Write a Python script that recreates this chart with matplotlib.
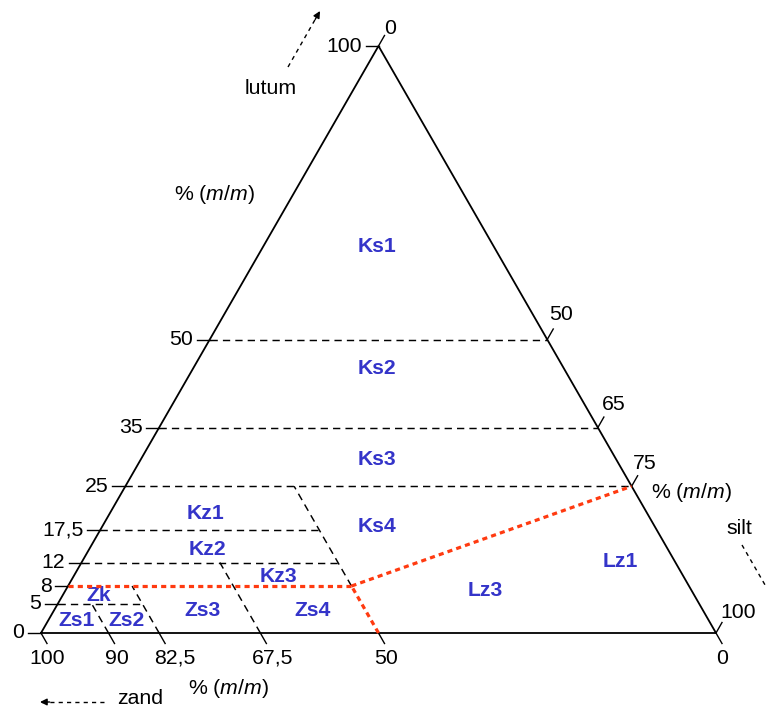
import matplotlib
matplotlib.use("Agg")
import matplotlib.pyplot as plt
import numpy as np

# ---------------- data ----------------
lutum_ticks = [0, 5, 8, 12, 17.5, 25, 35, 50, 100]
lutum_labels = ['0', '5', '8', '12', '17,5', '25', '35', '50', '100']
sand_ticks = [100, 90, 82.5, 67.5, 50, 0]
sand_labels = ['100', '90', '82,5', '67,5', '50', '0']
silt_tick_lutum = [100, 50, 35, 25, 0]
silt_labels = ['0', '50', '65', '75', '100']

# boundary segments as (lutum1, zand1, lutum2, zand2)
dashed_bounds = [
    (50, 50, 50, 0), (35, 65, 35, 0), (25, 75, 25, 0),
    (17.5, 82.5, 17.5, 50), (12, 88, 12, 50), (5, 95, 5, 82.5),
    (8, 50, 25, 50), (0, 67.5, 12, 67.5), (0, 82.5, 8, 82.5), (0, 90, 5, 90),
]
red_bounds = [(8, 92, 8, 50), (0, 50, 8, 50), (8, 50, 25, 0)]

class_names = ['Ks1', 'Ks2', 'Ks3', 'Ks4', 'Kz1', 'Kz2', 'Kz3', 'Zk',
               'Zs1', 'Zs2', 'Zs3', 'Zs4', 'Lz3', 'Lz1']
# label positions (base %, lutum %)
class_pos = [(49.8, 65.9), (49.8, 45.0), (49.8, 29.6), (49.8, 18.1),
             (24.4, 20.4), (24.6, 14.3), (35.2, 9.6), (8.6, 6.4),
             (5.2, 2.2), (12.7, 2.2), (23.9, 3.9), (40.3, 3.9),
             (65.8, 7.2), (85.8, 12.1)]

# label pixel offsets (layout only)
sand_lab_dx = [6, 8.5, 16, 12.5, 7.5, 6]
silt_lab_off = [(6, -18), (2, -24.5), (3.5, -23.5), (1.5, -23), (4, -20.5)]

# ---------------- geometry ----------------
SX = 6.75   # px per base-%
SY = 5.87   # px per lutum-%
X0px, Y0px = 41, 633
W, H = 766, 708


def tern(L, Z):
    S = 100 - L - Z
    return S + L / 2.0, L


def P(xpx, ypx):
    return (xpx - X0px) / SX, (Y0px - ypx) / SY


def off(dx, dy):
    return dx / SX, -dy / SY


plt.rcParams['font.family'] = ['Liberation Sans', 'DejaVu Sans']
plt.rcParams['mathtext.fontset'] = 'custom'
plt.rcParams['mathtext.rm'] = 'Liberation Sans'
plt.rcParams['mathtext.it'] = 'Liberation Sans:italic'

fig = plt.figure(figsize=(W / 100, H / 100), dpi=100)
ax = fig.add_axes([0, 0, 1, 1])
ax.set_xlim(-X0px / SX, (W - X0px) / SX)
ax.set_ylim((Y0px - H) / SY, Y0px / SY)
ax.axis('off')

FS = 15.3
FSB = 15.2
BLUE = '#3434C9'
RED = '#FF3A10'

# triangle
tri = [tern(0, 100), tern(0, 0), tern(100, 0), tern(0, 100)]
ax.plot([p[0] for p in tri], [p[1] for p in tri], color='black', lw=1.3,
        solid_joinstyle='miter', zorder=3)

# dashed boundaries
for L1, Z1, L2, Z2 in dashed_bounds:
    a, b = tern(L1, Z1), tern(L2, Z2)
    ax.plot([a[0], b[0]], [a[1], b[1]], color='black', lw=1.05,
            linestyle=(0, (5, 3.5)), zorder=2)

# red boundaries
for L1, Z1, L2, Z2 in red_bounds:
    a, b = tern(L1, Z1), tern(L2, Z2)
    ax.plot([a[0], b[0]], [a[1], b[1]], color=RED, lw=2.3,
            linestyle=(0, (1.6, 1.3)), zorder=4)

# lutum ticks (left)
for v, lab in zip(lutum_ticks, lutum_labels):
    x, y = tern(v, 100 - v)
    dx, _ = off(-13, 0)
    ax.plot([x + dx, x], [y, y], color='black', lw=1.0, zorder=3)
    tx, _ = off(-16.5, 0)
    ax.text(x + tx, y, lab, ha='right', va='center', fontsize=FS)

# sand ticks (bottom)
for v, lab, ldx in zip(sand_ticks, sand_labels, sand_lab_dx):
    x, y = tern(0, v)
    dx, dy = off(6, 10.5)
    ax.plot([x, x + dx], [y, y + dy], color='black', lw=1.0, zorder=3)
    tx, ty = off(ldx, 25)
    ax.text(x + tx, y + ty, lab, ha='center', va='center', fontsize=FS)

# silt ticks (right)
for v, lab, (ox, oy) in zip(silt_tick_lutum, silt_labels, silt_lab_off):
    x, y = tern(v, 0)
    dx, dy = off(6, -10.5)
    ax.plot([x, x + dx], [y, y + dy], color='black', lw=1.0, zorder=3)
    tx, ty = off(ox, oy)
    ax.text(x + tx, y + ty, lab, ha='left', va='center', fontsize=FS)

# class labels
for name, (x, y) in zip(class_names, class_pos):
    ax.text(x, y, name, ha='center', va='center', fontsize=FSB,
            fontweight='bold', color=BLUE)

# axis titles
unit = '% ($\\mathit{m/m}$)'
ax.text(*P(214, 195), unit, ha='center', va='center', fontsize=FS)
ax.text(*P(228, 689), unit, ha='center', va='center', fontsize=FS)
ax.text(*P(691, 492), unit, ha='center', va='center', fontsize=FS)

ax.text(*P(271, 88), 'lutum', ha='center', va='center', fontsize=FS)
ax.text(*P(739, 529), 'silt', ha='center', va='center', fontsize=FS)
ax.text(*P(140, 699), 'zand', ha='center', va='center', fontsize=FS)


# direction arrows
def darrow(p0, p1, head=True):
    a, b = P(*p0), P(*p1)
    ax.plot([a[0], b[0]], [a[1], b[1]], color='black', lw=1.0,
            linestyle=(0, (3, 3)))
    if head:
        v = np.array(b) - np.array(a)
        ax.annotate('', xy=b, xytext=(b[0] - 0.15 * v[0], b[1] - 0.15 * v[1]),
                    arrowprops=dict(arrowstyle='-|>', color='black', lw=1.0,
                                    mutation_scale=10, shrinkA=0, shrinkB=0))


darrow((288, 67), (320, 11))
darrow((104, 702), (40, 702))
darrow((742, 545), (772, 597), head=False)

fig.savefig('out.png', dpi=100)
